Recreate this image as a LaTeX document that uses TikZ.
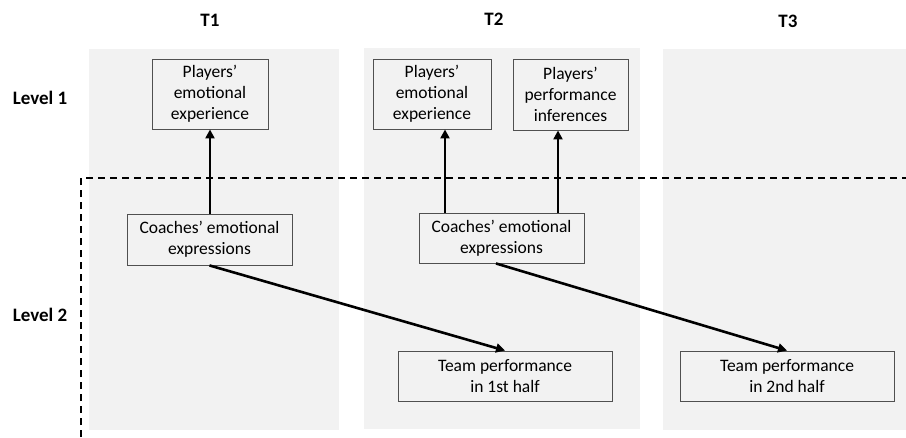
\documentclass[tikz,border=0pt]{standalone}
\usepackage{fontspec}
\setmainfont{Carlito}
\usetikzlibrary{arrows.meta}
\definecolor{panelgray}{HTML}{F2F2F2}
\definecolor{boxedge}{HTML}{505050}
\tikzset{
  panel/.style={fill=panelgray, draw=none},
  varbox/.style={draw=boxedge, line width=0.9pt, fill=panelgray, align=center,
    font=\fontsize{17.5}{21}\selectfont, inner sep=0pt},
  hdr/.style={font=\fontsize{19}{21}\selectfont\bfseries, inner sep=0pt},
  effect/.style={line width=2.6pt, -{Triangle[length=9pt,width=9pt]}, shorten <=0pt},
  levelline/.style={line width=1.4pt, dash pattern=on 7pt off 5pt}
}
\begin{document}
\begin{tikzpicture}[x=1pt,y=-1pt]
\useasboundingbox (0,0) rectangle (906,437);
% panels
\fill[panel] (89,49) rectangle (339,430);
\fill[panel] (364,48) rectangle (640,429);
\fill[panel] (663,49) rectangle (906,430);
% dashed level separator
\coordinate (dA) at (81,437);
\coordinate (dB) at (81,178);
\coordinate (dC) at (906,178);
\draw[levelline] (dA) -- (dB) -- (dC);
% headers
\node[hdr] (t1) at (210,20) {T1};
\node[hdr] (t2) at (494,19) {T2};
\node[hdr] (t3) at (788,21) {T3};
\node[hdr] (l1) at (40,98) {Level 1};
\node[hdr] (l2) at (40,315) {Level 2};
% boxes
\node[varbox, minimum width=116pt, minimum height=70pt] (pe1) at (210,94) {Players'\\emotional\\experience};
\node[varbox, minimum width=118pt, minimum height=70pt] (pe2) at (432,94) {Players'\\emotional\\experience};
\node[varbox, minimum width=115pt, minimum height=71pt] (pi2) at (570.5,94.5) {Players'\\performance\\inferences};
\node[varbox, minimum width=165pt, minimum height=51pt] (ce1) at (209.5,239.5) {Coaches' emotional\\expressions};
\node[varbox, minimum width=165pt, minimum height=50pt] (ce2) at (501.5,238) {Coaches' emotional\\expressions};
\node[varbox, minimum width=214pt, minimum height=50pt] (tp1) at (505,376) {Team performance\\in 1st half};
\node[varbox, minimum width=214pt, minimum height=50pt] (tp2) at (787,376) {Team performance\\in 2nd half};
% effects
\draw[effect] (ce1.north -| pe1.south) -- (pe1.south);
\draw[effect] (ce2.north -| 445,0) -- (pe2.south -| 445,0);
\draw[effect] (ce2.north -| 558,0) -- (pi2.south -| 558,0);
\draw[effect] (ce1.south) -- (tp1.north);
\draw[effect] (ce2.south -| 496,0) -- (tp2.north);
\end{tikzpicture}
\end{document}
